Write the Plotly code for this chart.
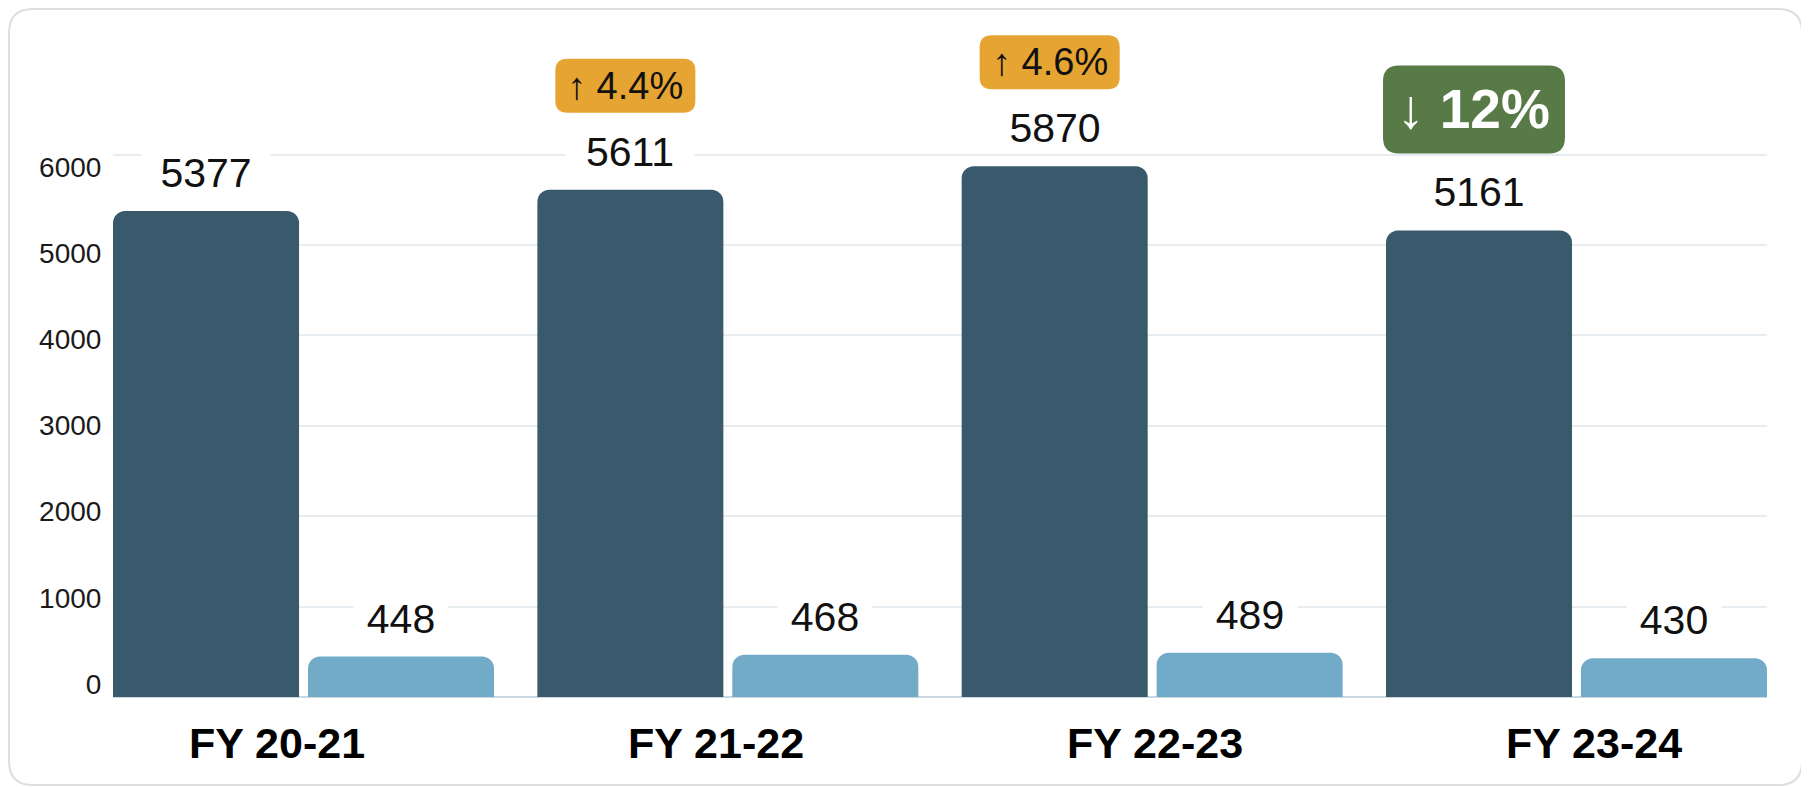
import plotly.graph_objects as go

# ---------------- data ----------------
categories = ["FY 20-21", "FY 21-22", "FY 22-23", "FY 23-24"]
primary_values = [5377, 5611, 5870, 5161]
secondary_values = [448, 468, 489, 430]
change_labels = [None, "↑ 4.4%", "↑ 4.6%", "↓ 12%"]
change_kinds = [None, "up", "up", "down"]
y_ticks = [0, 1000, 2000, 3000, 4000, 5000, 6000]
y_tick_text = ["0", "1000", "2000", "3000", "4000", "5000", "6000"]

# ---------------- layout constants ----------------
# the html page has an 8px body margin, so the figure is 8px smaller than the window
W, H = 1801, 780
L, R, T, B = 105, 42, 10, 91
PW = W - L - R
PH = H - T - B
PX_PER_UNIT = 0.0904               # pixels per data unit on the value axis
Y_MAX = PH / PX_PER_UNIT
X_RANGE = [-0.449, 3.449]
UNIT_PX = PW / (X_RANGE[1] - X_RANGE[0])
BARGAP = 0.081
BARGROUPGAP = 0.046
SLOT_OFF = (1 - BARGAP) / 4 * UNIT_PX   # pixel offset of each bar centre from category centre

# label axes (tick labels sit on a slightly different spacing than the bars/grid)
X2_RANGE = [-0.3736, 3.394]
LBL_PX = 0.08617
Y2_MIN = -13 / LBL_PX
Y2_MAX = Y2_MIN + PH / LBL_PX

DARK = "#385a6c"
LIGHT = "#72abc8"
ORANGE = "#e6a533"
GREEN = "#587a46"
GRID = "#e7ecf1"
FONT = "Liberation Sans, Arial, Helvetica, sans-serif"

fig = go.Figure()
fig.add_bar(x=categories, y=primary_values,
            marker=dict(color=DARK, cornerradius=12, line=dict(width=0)),
            hoverinfo="skip")
fig.add_bar(x=categories, y=secondary_values,
            marker=dict(color=LIGHT, cornerradius=12, line=dict(width=0)),
            hoverinfo="skip")
fig.add_scatter(x=[None], y=[None], xaxis="x2", yaxis="y2",
                showlegend=False, hoverinfo="skip")

annotations = []
shapes = []

# value labels
for c, v in zip(categories, primary_values):
    annotations.append(dict(x=c, y=v, xref="x", yref="y", xshift=-SLOT_OFF, yshift=38,
                            text=str(v), showarrow=False, yanchor="middle",
                            bgcolor="white", width=128, height=40, borderpad=0,
                            font=dict(family=FONT, size=41, color="#111111")))
for c, v in zip(categories, secondary_values):
    annotations.append(dict(x=c, y=v, xref="x", yref="y", xshift=SLOT_OFF, yshift=38,
                            text=str(v), showarrow=False, yanchor="middle",
                            bgcolor="white", width=94, height=40, borderpad=0,
                            font=dict(family=FONT, size=41, color="#111111")))


def rounded(x0, x1, y0, y1, r):
    return (f"M {x0 + r},{y0} L {x1 - r},{y0} Q {x1},{y0} {x1},{y0 + r} "
            f"L {x1},{y1 - r} Q {x1},{y1} {x1 - r},{y1} "
            f"L {x0 + r},{y1} Q {x0},{y1} {x0},{y1 - r} "
            f"L {x0},{y0 + r} Q {x0},{y0} {x0 + r},{y0} Z")


# change badges
BADGE_GAP = 77
NUDGE = -5
for c, v, lab, kind in zip(categories, primary_values, change_labels, change_kinds):
    if lab is None:
        continue
    if kind == "up":
        bw, bh, rad, col = 140, 54, 12, ORANGE
        font = dict(family=FONT, size=38, color="#111111")
    else:
        bw, bh, rad, col = 182, 88, 16, GREEN
        font = dict(family=FONT, size=55, color="white", weight="bold")
    cx = -SLOT_OFF + NUDGE
    shapes.append(dict(type="path", xref="x", yref="y",
                       xsizemode="pixel", ysizemode="pixel",
                       xanchor=c, yanchor=v,
                       path=rounded(cx - bw / 2, cx + bw / 2, BADGE_GAP, BADGE_GAP + bh, rad),
                       fillcolor=col, line=dict(width=0), layer="above"))
    annotations.append(dict(x=c, y=v, xref="x", yref="y", xshift=cx,
                            yshift=BADGE_GAP + bh / 2, text=lab, showarrow=False,
                            yanchor="middle", font=font))


# card border (paper coordinates)
def px_to_paper_x(p):
    return (p - L) / PW


def px_to_paper_y(p):
    return (H - B - p) / PH


cl, cr, ct, cb, crad = 1, 1794, 1, 777, 24
rx = crad / PW
ry = crad / PH
x0, x1 = px_to_paper_x(cl), px_to_paper_x(cr)
y0, y1 = px_to_paper_y(cb), px_to_paper_y(ct)
card = (f"M {x0 + rx},{y0} L {x1 - rx},{y0} Q {x1},{y0} {x1},{y0 + ry} "
        f"L {x1},{y1 - ry} Q {x1},{y1} {x1 - rx},{y1} "
        f"L {x0 + rx},{y1} Q {x0},{y1} {x0},{y1 - ry} "
        f"L {x0},{y0 + ry} Q {x0},{y0} {x0 + rx},{y0} Z")
shapes.append(dict(type="path", xref="paper", yref="paper", path=card,
                   line=dict(color="#dedede", width=2), fillcolor="rgba(0,0,0,0)",
                   layer="below"))

fig.update_layout(
    width=W, height=H,
    margin=dict(l=L, r=R, t=T, b=B, autoexpand=False),
    paper_bgcolor="white", plot_bgcolor="white",
    template="none",
    showlegend=False,
    barmode="group", bargap=BARGAP, bargroupgap=BARGROUPGAP,
    font=dict(family=FONT),
    xaxis=dict(type="category", range=X_RANGE, showticklabels=False, showgrid=False,
               zeroline=False, showline=False, ticks=""),
    yaxis=dict(range=[0, Y_MAX], tickvals=y_ticks, showticklabels=False,
               showgrid=True, gridcolor=GRID, gridwidth=2,
               zeroline=True, zerolinecolor="#c9d7e1", zerolinewidth=2,
               showline=False, ticks=""),
    xaxis2=dict(overlaying="x", anchor="y2", side="bottom", range=X2_RANGE,
                tickvals=[0, 1, 2, 3], ticktext=categories,
                showgrid=False, zeroline=False, showline=False,
                ticks="outside", ticklen=8, tickcolor="rgba(0,0,0,0)",
                tickfont=dict(family=FONT, size=43, color="#000000", weight="bold")),
    yaxis2=dict(overlaying="y", anchor="x2", side="left", range=[Y2_MIN, Y2_MAX],
                tickvals=y_ticks, ticktext=y_tick_text,
                showgrid=False, zeroline=False, showline=False,
                ticks="outside", ticklen=5, tickcolor="rgba(0,0,0,0)",
                tickfont=dict(family=FONT, size=28, color="#1a1a1a")),
    annotations=annotations,
    shapes=shapes,
)

fig.write_html("out.html")
